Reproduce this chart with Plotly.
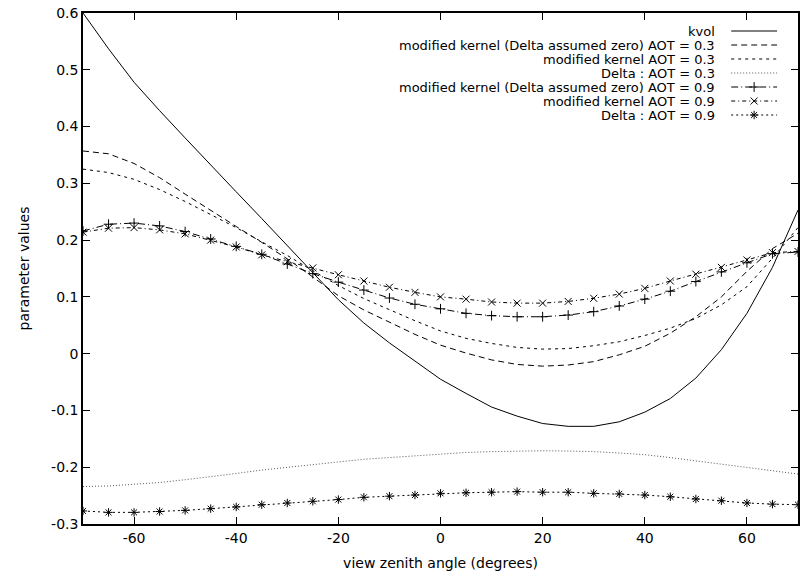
import plotly.graph_objects as go

# ---- data ----
vza = [-70, -65, -60, -55, -50, -45, -40, -35, -30, -25, -20, -15, -10, -5, 0,
       5, 10, 15, 20, 25, 30, 35, 40, 45, 50, 55, 60, 65, 70]

kvol = [0.600, 0.537, 0.478, 0.428, 0.380, 0.332, 0.285, 0.238, 0.190, 0.143,
        0.095, 0.054, 0.019, -0.013, -0.045, -0.070, -0.094, -0.110, -0.123,
        -0.128, -0.128, -0.120, -0.103, -0.079, -0.043, 0.007, 0.071, 0.152, 0.253]

mk_dz_03 = [0.357, 0.352, 0.335, 0.310, 0.281, 0.252, 0.224, 0.196, 0.167, 0.135,
            0.102, 0.077, 0.055, 0.034, 0.015, 0.001, -0.011, -0.019, -0.022,
            -0.020, -0.014, -0.002, 0.013, 0.036, 0.065, 0.100, 0.145, 0.185, 0.212]

mk_03 = [0.325, 0.319, 0.307, 0.289, 0.268, 0.245, 0.222, 0.197, 0.173, 0.146,
         0.120, 0.097, 0.077, 0.058, 0.040, 0.027, 0.018, 0.011, 0.008, 0.009,
         0.014, 0.021, 0.032, 0.045, 0.062, 0.086, 0.118, 0.168, 0.222]

delta_03 = [-0.234, -0.233, -0.230, -0.227, -0.222, -0.217, -0.211, -0.205, -0.200,
            -0.195, -0.190, -0.186, -0.183, -0.180, -0.177, -0.174, -0.1725, -0.1715,
            -0.171, -0.1715, -0.1725, -0.175, -0.178, -0.183, -0.189, -0.1945, -0.200,
            -0.206, -0.212]

mk_dz_09 = [0.216, 0.228, 0.230, 0.225, 0.215, 0.202, 0.189, 0.175, 0.158, 0.141,
            0.126, 0.112, 0.098, 0.087, 0.079, 0.071, 0.067, 0.065, 0.065, 0.068,
            0.074, 0.084, 0.096, 0.110, 0.127, 0.144, 0.160, 0.176, 0.179]

mk_09 = [0.214, 0.221, 0.222, 0.218, 0.211, 0.200, 0.188, 0.174, 0.162, 0.151,
         0.139, 0.128, 0.117, 0.108, 0.100, 0.096, 0.091, 0.089, 0.089, 0.092,
         0.0975, 0.105, 0.115, 0.128, 0.140, 0.152, 0.165, 0.178, 0.180]

delta_09 = [-0.277, -0.2795, -0.2795, -0.278, -0.276, -0.273, -0.270, -0.266, -0.263,
            -0.260, -0.257, -0.253, -0.251, -0.249, -0.246, -0.245, -0.244, -0.243,
            -0.244, -0.244, -0.246, -0.247, -0.249, -0.252, -0.256, -0.259, -0.263,
            -0.265, -0.266]

names = ["kvol",
         "modified kernel (Delta assumed zero) AOT = 0.3",
         "modified kernel AOT = 0.3",
         "Delta : AOT = 0.3",
         "modified kernel (Delta assumed zero) AOT = 0.9",
         "modified kernel AOT = 0.9",
         "Delta : AOT = 0.9"]
series = [kvol, mk_dz_03, mk_03, delta_03, mk_dz_09, mk_09, delta_09]

x_ticks = [-60, -40, -20, 0, 20, 40, 60]
x_ticktext = ["-60", "-40", "-20", "0", "20", "40", "60"]
y_ticks = [0.6, 0.5, 0.4, 0.3, 0.2, 0.1, 0, -0.1, -0.2, -0.3]
y_ticktext = ["0.6", "0.5", "0.4", "0.3", "0.2", "0.1", "0", "-0.1", "-0.2", "-0.3"]

# ---- styles ----
dashes = ["solid", "6px,4px", "3px,4px", "1px,2px", "7px,3px,1px,3px", "4px,3px,1px,3px", "2px,3px"]
symbols = [None, None, None, None, "cross-thin-open", "x-thin-open", "asterisk-open"]
line_colors = ["black", "black", "black", "#555555", "black", "black", "black"]
FONT = "DejaVu Sans"
FS = 14
LEG_FS = 13
MS = 7

fig = go.Figure()
for name, ys, dash, sym, lc in zip(names, series, dashes, symbols, line_colors):
    mode = "lines+markers" if sym else "lines"
    tr = dict(x=vza, y=ys, mode=mode, name=name, showlegend=False,
              line=dict(color=lc, width=1, dash=dash))
    if sym:
        tr["marker"] = dict(symbol=sym, size=MS, color="black",
                            line=dict(color="black", width=1))
    fig.add_trace(go.Scatter(**tr))

# ---- custom legend (text right-aligned, key to the right) ----
L, R, T, B = 83, 3, 13, 54
W, H = 803, 578
pw, ph = W - L - R, H - T - B
row0, step = 31.0, 14.0
text_right, key_x0, key_x1 = 718, 733, 779
for i, (name, dash, sym, lc) in enumerate(zip(names, dashes, symbols, line_colors)):
    py = row0 + step * i
    yp = (H - B - py) / ph
    fig.add_annotation(x=(text_right - L) / pw, y=yp, xref="paper", yref="paper",
                       text=name, showarrow=False, xanchor="right", yanchor="middle",
                       borderpad=0,
                       font=dict(family=FONT, size=LEG_FS, color="black"))
    kx = [(key_x0 - L) / pw, (key_x1 - L) / pw]
    fig.add_trace(go.Scatter(x=kx, y=[yp, yp], mode="lines", xaxis="x2", yaxis="y2",
                             showlegend=False, hoverinfo="skip",
                             line=dict(color=lc, width=1, dash=dash)))
    if sym:
        fig.add_trace(go.Scatter(x=[sum(kx) / 2], y=[yp], mode="markers",
                                 xaxis="x2", yaxis="y2", showlegend=False,
                                 hoverinfo="skip",
                                 marker=dict(symbol=sym, size=MS, color="black",
                                             line=dict(color="black", width=1))))

axis_common = dict(showline=True, linecolor="black", linewidth=1.5, mirror="allticks",
                   ticks="inside", ticklen=7, tickwidth=1, tickcolor="black",
                   showgrid=False, zeroline=False,
                   tickfont=dict(family=FONT, size=FS, color="black"))

fig.update_layout(
    width=W, height=H,
    margin=dict(l=L, r=R, t=T, b=B),
    paper_bgcolor="white", plot_bgcolor="white",
    font=dict(family=FONT, size=FS, color="black"),
    xaxis=dict(range=[-70, 70], tickvals=x_ticks, ticktext=x_ticktext,
               title=dict(text="view zenith angle (degrees)", standoff=14,
                          font=dict(family=FONT, size=FS)),
               **axis_common),
    yaxis=dict(range=[-0.3, 0.6], tickvals=y_ticks, ticktext=y_ticktext,
               title=dict(text="parameter values", standoff=18,
                          font=dict(family=FONT, size=FS)),
               **axis_common),
    xaxis2=dict(range=[0, 1], overlaying="x", visible=False, fixedrange=True),
    yaxis2=dict(range=[0, 1], overlaying="y", visible=False, fixedrange=True),
)

fig.write_html("out.html", config={"displayModeBar": False},
               post_script="document.body.style.margin='0px';")
